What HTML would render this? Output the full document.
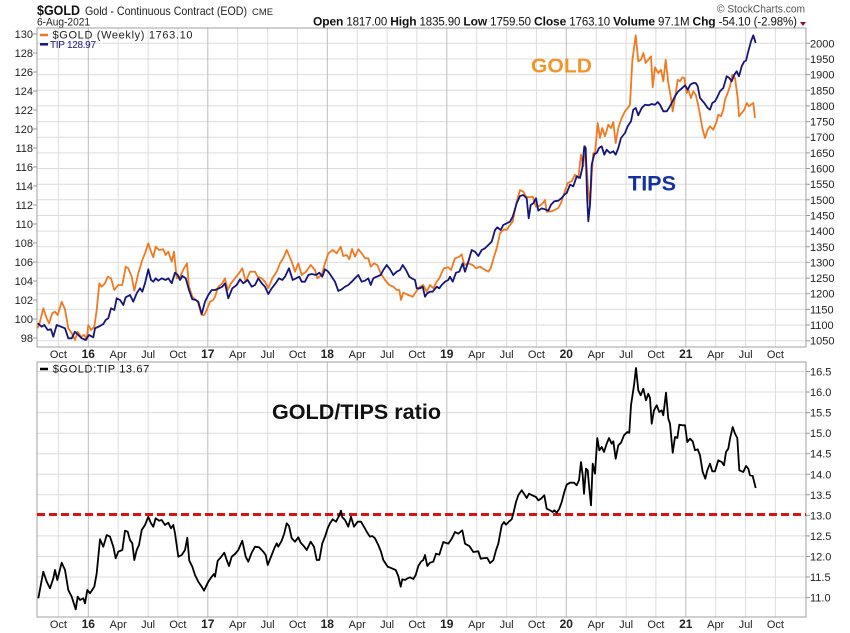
<!DOCTYPE html>
<html><head><meta charset="utf-8"><style>
html,body{margin:0;padding:0;background:#fff;}
svg{display:block;font-family:"Liberation Sans",Arial,sans-serif;}
</style></head><body>
<svg width="850" height="633" viewBox="0 0 850 633" xmlns="http://www.w3.org/2000/svg">
<rect width="850" height="633" fill="#fff"/>
<!-- header -->
<text x="37" y="15" font-size="14" font-weight="bold" fill="#111" textLength="43" lengthAdjust="spacingAndGlyphs">$GOLD</text>
<text x="85" y="15" font-size="12" fill="#222" textLength="162" lengthAdjust="spacingAndGlyphs">Gold - Continuous Contract (EOD)</text>
<text x="252" y="15" font-size="9" fill="#222" textLength="21" lengthAdjust="spacingAndGlyphs">CME</text>
<text x="37" y="25.5" font-size="11" fill="#222" textLength="53" lengthAdjust="spacingAndGlyphs">6-Aug-2021</text>
<text x="717" y="12.5" font-size="11" fill="#555" textLength="88" lengthAdjust="spacingAndGlyphs">© StockCharts.com</text>
<text x="313" y="25.5" font-size="11.5" fill="#111" textLength="484" lengthAdjust="spacing"><tspan font-weight="bold" font-size="12">Open</tspan> 1817.00 <tspan font-weight="bold" font-size="12">High</tspan> 1835.90 <tspan font-weight="bold" font-size="12">Low</tspan> 1759.50 <tspan font-weight="bold" font-size="12">Close</tspan> 1763.10 <tspan font-weight="bold" font-size="12">Volume</tspan> 97.1M <tspan font-weight="bold" font-size="12">Chg</tspan> -54.10 (-2.98%)</text>
<polygon points="800,22 806,22 803,26" fill="#8b1030"/>

<!-- TOP PANEL grid -->
<g stroke="#dcdcdc" stroke-width="1">
<line x1="37" x2="806" y1="43.3" y2="43.3"/><line x1="37" x2="806" y1="59" y2="59"/><line x1="37" x2="806" y1="74.6" y2="74.6"/><line x1="37" x2="806" y1="90.3" y2="90.3"/><line x1="37" x2="806" y1="105.9" y2="105.9"/><line x1="37" x2="806" y1="121.6" y2="121.6"/><line x1="37" x2="806" y1="137.2" y2="137.2"/><line x1="37" x2="806" y1="152.9" y2="152.9"/><line x1="37" x2="806" y1="168.5" y2="168.5"/><line x1="37" x2="806" y1="184.2" y2="184.2"/><line x1="37" x2="806" y1="199.8" y2="199.8"/><line x1="37" x2="806" y1="215.5" y2="215.5"/><line x1="37" x2="806" y1="231.1" y2="231.1"/><line x1="37" x2="806" y1="246.8" y2="246.8"/><line x1="37" x2="806" y1="262.4" y2="262.4"/><line x1="37" x2="806" y1="278.1" y2="278.1"/><line x1="37" x2="806" y1="293.7" y2="293.7"/><line x1="37" x2="806" y1="309.4" y2="309.4"/><line x1="37" x2="806" y1="325" y2="325"/><line x1="37" x2="806" y1="340.7" y2="340.7"/>
</g>
<!-- BOTTOM PANEL horizontal grid -->
<g stroke="#dcdcdc" stroke-width="1">
<line x1="37" x2="806" y1="371.5" y2="371.5"/><line x1="37" x2="806" y1="392" y2="392"/><line x1="37" x2="806" y1="412.6" y2="412.6"/><line x1="37" x2="806" y1="433.2" y2="433.2"/><line x1="37" x2="806" y1="453.7" y2="453.7"/><line x1="37" x2="806" y1="474.3" y2="474.3"/><line x1="37" x2="806" y1="494.8" y2="494.8"/><line x1="37" x2="806" y1="535.9" y2="535.9"/><line x1="37" x2="806" y1="556.5" y2="556.5"/><line x1="37" x2="806" y1="577" y2="577"/><line x1="37" x2="806" y1="597.6" y2="597.6"/>
</g>
<!-- vertical grid both panels -->
<g stroke="#dcdcdc" stroke-width="1">
<path d="M58.4 28V347M58.4 362V617
M118.2 28V347M118.2 362V617 M148.1 28V347M148.1 362V617 M177.9 28V347M177.9 362V617
M237.7 28V347M237.7 362V617 M267.6 28V347M267.6 362V617 M297.4 28V347M297.4 362V617
M357.2 28V347M357.2 362V617 M387.1 28V347M387.1 362V617 M416.9 28V347M416.9 362V617
M476.7 28V347M476.7 362V617 M506.6 28V347M506.6 362V617 M536.4 28V347M536.4 362V617
M596.2 28V347M596.2 362V617 M626.1 28V347M626.1 362V617 M655.9 28V347M655.9 362V617
M715.7 28V347M715.7 362V617 M745.6 28V347M745.6 362V617 M775.4 28V347M775.4 362V617"/>
</g>
<g stroke="#bdbdbd" stroke-width="1">
<path d="M88.3 28V347M88.3 362V617 M207.8 28V347M207.8 362V617 M327.3 28V347M327.3 362V617 M446.8 28V347M446.8 362V617 M566.3 28V347M566.3 362V617 M685.8 28V347M685.8 362V617"/>
</g>
<!-- borders -->
<rect x="37" y="28" width="769" height="319" fill="none" stroke="#a0a0a0" stroke-width="1"/>
<rect x="37" y="362" width="769" height="255" fill="none" stroke="#a0a0a0" stroke-width="1"/>

<!-- left axis top -->
<g font-size="11" fill="#222" text-anchor="end">
<text x="33" y="38">130</text><text x="33" y="57">128</text><text x="33" y="76">126</text><text x="33" y="95">124</text><text x="33" y="114">122</text><text x="33" y="133">120</text><text x="33" y="152">118</text><text x="33" y="171">116</text><text x="33" y="190">114</text><text x="33" y="209">112</text><text x="33" y="228">110</text><text x="33" y="247">108</text><text x="33" y="266">106</text><text x="33" y="285">104</text><text x="33" y="304">102</text><text x="33" y="323">100</text><text x="33" y="342">98</text>
</g>
<g stroke="#999" stroke-width="1">
<path d="M33 34H37M33 53H37M33 72H37M33 91H37M33 110H37M33 129H37M33 148H37M33 167H37M33 186H37M33 205H37M33 224H37M33 243H37M33 262H37M33 281H37M33 300H37M33 319H37M33 338H37"/>
<path d="M806 43.3H810M806 59H810M806 74.6H810M806 90.3H810M806 105.9H810M806 121.6H810M806 137.2H810M806 152.9H810M806 168.5H810M806 184.2H810M806 199.8H810M806 215.5H810M806 231.1H810M806 246.8H810M806 262.4H810M806 278.1H810M806 293.7H810M806 309.4H810M806 325H810M806 340.7H810"/>
<path d="M806 371.5H810M806 392H810M806 412.6H810M806 433.2H810M806 453.7H810M806 474.3H810M806 494.8H810M806 515.4H810M806 535.9H810M806 556.5H810M806 577H810M806 597.6H810"/>
</g>
<!-- right axis top -->
<g font-size="11" fill="#222">
<text x="810" y="47.3">2000</text><text x="810" y="63">1950</text><text x="810" y="78.6">1900</text><text x="810" y="94.3">1850</text><text x="810" y="109.9">1800</text><text x="810" y="125.6">1750</text><text x="810" y="141.2">1700</text><text x="810" y="156.9">1650</text><text x="810" y="172.5">1600</text><text x="810" y="188.2">1550</text><text x="810" y="203.8">1500</text><text x="810" y="219.5">1450</text><text x="810" y="235.1">1400</text><text x="810" y="250.8">1350</text><text x="810" y="266.4">1300</text><text x="810" y="282.1">1250</text><text x="810" y="297.7">1200</text><text x="810" y="313.4">1150</text><text x="810" y="329">1100</text><text x="810" y="344.7">1050</text>
</g>
<!-- right axis bottom -->
<g font-size="11" fill="#222">
<text x="810" y="375.5">16.5</text><text x="810" y="396">16.0</text><text x="810" y="416.6">15.5</text><text x="810" y="437.2">15.0</text><text x="810" y="457.7">14.5</text><text x="810" y="478.3">14.0</text><text x="810" y="498.8">13.5</text><text x="810" y="519.4">13.0</text><text x="810" y="539.9">12.5</text><text x="810" y="560.5">12.0</text><text x="810" y="581">11.5</text><text x="810" y="601.6">11.0</text>
</g>
<!-- x labels top -->
<g font-size="11" fill="#222" text-anchor="middle">
<text x="58.4" y="358">Oct</text><text x="88.3" y="358" font-weight="bold" font-size="12">16</text><text x="118.2" y="358">Apr</text><text x="148.1" y="358">Jul</text><text x="177.9" y="358">Oct</text>
<text x="207.8" y="358" font-weight="bold" font-size="12">17</text><text x="237.7" y="358">Apr</text><text x="267.6" y="358">Jul</text><text x="297.4" y="358">Oct</text>
<text x="327.3" y="358" font-weight="bold" font-size="12">18</text><text x="357.2" y="358">Apr</text><text x="387.1" y="358">Jul</text><text x="416.9" y="358">Oct</text>
<text x="446.8" y="358" font-weight="bold" font-size="12">19</text><text x="476.7" y="358">Apr</text><text x="506.6" y="358">Jul</text><text x="536.4" y="358">Oct</text>
<text x="566.3" y="358" font-weight="bold" font-size="12">20</text><text x="596.2" y="358">Apr</text><text x="626.1" y="358">Jul</text><text x="655.9" y="358">Oct</text>
<text x="685.8" y="358" font-weight="bold" font-size="12">21</text><text x="715.7" y="358">Apr</text><text x="745.6" y="358">Jul</text><text x="775.4" y="358">Oct</text>
</g>
<g font-size="11" fill="#222" text-anchor="middle">
<text x="58.4" y="628">Oct</text><text x="88.3" y="628" font-weight="bold" font-size="12">16</text><text x="118.2" y="628">Apr</text><text x="148.1" y="628">Jul</text><text x="177.9" y="628">Oct</text>
<text x="207.8" y="628" font-weight="bold" font-size="12">17</text><text x="237.7" y="628">Apr</text><text x="267.6" y="628">Jul</text><text x="297.4" y="628">Oct</text>
<text x="327.3" y="628" font-weight="bold" font-size="12">18</text><text x="357.2" y="628">Apr</text><text x="387.1" y="628">Jul</text><text x="416.9" y="628">Oct</text>
<text x="446.8" y="628" font-weight="bold" font-size="12">19</text><text x="476.7" y="628">Apr</text><text x="506.6" y="628">Jul</text><text x="536.4" y="628">Oct</text>
<text x="566.3" y="628" font-weight="bold" font-size="12">20</text><text x="596.2" y="628">Apr</text><text x="626.1" y="628">Jul</text><text x="655.9" y="628">Oct</text>
<text x="685.8" y="628" font-weight="bold" font-size="12">21</text><text x="715.7" y="628">Apr</text><text x="745.6" y="628">Jul</text><text x="775.4" y="628">Oct</text>
</g>

<!-- Gold series -->
<polyline fill="none" stroke="#EE7A22" stroke-width="1.8" stroke-linejoin="round" points="37.7,328.3 40,321.7 43.3,308.3 46.7,318.3 49,323.3 52.3,313.3 55,311.7 57.7,315 61.7,301.7 65,309.3 68.3,328.3 71.7,333.3 75,340 77.7,331.7 81,336.7 84.3,335 86.7,339.3 88.3,325 91,330 94.3,326.7 96.7,310 99.3,283.3 101.7,286.7 105,283.3 107.7,276.7 111,278.3 114.3,290 118.3,285 122.3,285 125.7,266.7 128.3,268.3 131.7,276.7 134.3,290.7 138.3,273.3 142.3,260 145,253.3 148.3,243.3 151,251.7 153.3,257.3 155.7,246.7 159,250 163.3,249.3 165.7,255 168.3,251.7 171.7,261.7 174,251.7 176.7,278.3 180,276.7 184,268.3 187,263.3 189,286.7 192.3,296.7 197.7,301.7 201.7,315 204.3,315 206.7,310 210,301.7 213.3,300 215,296.7 218.3,286.7 222.3,283.3 225,278.3 227.7,290 231,283.3 235,278.3 239,273.3 242.3,268.3 245.7,281.7 250,271.7 255,271.7 257.7,276.7 261.7,278.3 265,281.7 268.3,288.3 272.3,278.3 276.7,271.7 280,263.3 283.3,258.3 286.7,250 291.7,261.7 295,271.7 298.3,263.3 301.7,275 306,271.7 310.7,265 315,270 317.3,278.3 321.7,275 325,263.3 328.3,253.3 332.7,250 336.7,253.3 340.7,246.7 343.3,256 346.7,255 349.3,259.3 352,249 355,256.7 358.3,249.3 361.7,253.3 365,258.3 368.3,258.3 370.7,266.7 374,263.3 377.3,265 380.7,273.3 385,280 389.3,285 393.3,286.7 396.7,290 399.3,290 401,300 403.3,292.7 408.3,295 412.7,296.7 416,291.7 420,286.7 423.3,285 426.7,291.7 430,285 433.3,288.3 436.7,281.7 439.3,278.3 441.7,272.7 444,268.3 448.3,267.3 451,270 455,258.3 459.3,256.7 461.7,254.3 464.3,265 468.3,263.3 472.7,265 476,268.3 480,266.7 484,269.3 488.3,271.7 490.7,268.3 494,256.7 496.7,248.3 500,233.3 504,229.3 506.7,230 510,225 512.7,221.7 515,210 516.7,201.7 520,190 523.3,191.7 526,196.7 529.3,197.3 532.7,196.7 536,206.7 539.3,206 542.7,203.3 545,200 546.7,211.7 551.7,211.3 555,209.7 558.3,208 561,203 564.3,193 567.7,183 571.7,181.3 575,174.7 578.3,178 581,154.7 583.3,166.3 585,146.3 586.7,168 588.3,191.3 590,204.7 591.7,174.7 593.3,153 595,154 597.7,123 600,138 602.3,128 605,136.3 608.3,124.7 611,128 613.3,122 615.7,143 618.3,128 621.7,118 625,111.3 628.3,107.3 630,104.7 632.3,61.3 635.7,35.3 638.3,61.3 641,59.7 643.3,53 645.7,63 648.3,59.7 651,56.3 652.7,87.3 655,67.3 658.3,73 661,69.7 663.3,81.3 665.7,59.7 668.3,83 671,98 672.7,111.3 675,98 677.7,79.7 680,81.3 682.3,77.3 684.3,78 686.7,93 688.3,89.7 691,98 693.3,91.3 695.7,94.7 697.7,103 700,114.7 702.3,128 705,138 707.7,129.7 710,126.3 713.3,129.7 716.7,121.3 718.3,114.7 721,116.3 723.3,109.7 725,99.7 727.7,93 730,86.3 732.3,74.7 735,78 737.7,98 739,116.3 741.7,113 744.3,109.7 746.7,103 749,106.3 751.7,104 753.3,103 755,118"/>
<!-- TIP series -->
<polyline fill="none" stroke="#15157A" stroke-width="1.8" stroke-linejoin="round" points="37.7,323.3 41.7,326.7 44.3,325 47.7,330 51,329.3 53.3,336.7 56.7,325 61,326.7 65,328.3 68.3,338.3 71.7,338.3 75,331.7 78.3,335 81.7,338.3 85.7,340 89,335 93.3,337.3 95,328.3 100,326 103.3,324 105.7,320 108.3,318.3 111,308.3 114.3,310 116.7,298.3 120,300 123.3,305 125.7,297.3 130,295 133.3,301.7 136.7,293.3 140,288.3 142.3,291.7 145,283.3 148.3,269.3 151,280 153.3,281.7 155.7,278.3 158.3,280.7 161.7,278.3 165.7,280 168.3,278.3 171.7,283.3 175,272.7 177.7,275 180,280 182.3,276 185.7,278.3 189,290 192.3,299.3 195.7,300 198.3,301.7 201.7,314 205,301.7 208.3,295 211.7,290 215,290 219,288.3 222.3,286.7 225,283.3 228.3,298.3 232.3,288.3 236.7,285 240,279.3 243.3,283.3 247.7,280 251.7,286.7 255,285 258.3,278.3 261.7,283.3 265,286.7 268.3,294 271.7,288.3 275.7,283.3 279,278.3 282.3,280 285,276.7 289,268.3 292.7,280 296,278.3 299.3,276.7 301.7,281.7 305,281.7 308.3,275 311.7,274 316,275 319.3,272.7 322.3,276.7 325,269.3 328.3,271.7 331.7,276.7 335,281.7 338.3,291 341.7,289.3 345,286.7 348.3,285 351.7,281.7 355,278.3 358.3,275 361.7,281.7 365,280.7 368.3,278.3 370.7,285 373.3,278.3 376.7,276.7 380.7,275 383.3,270 386.7,265 390,269.3 393.3,275 396.7,271.7 400,270 402.7,265 406,270 409.3,276.7 411.7,278.3 415,280 416.7,288.3 420,288.3 422.7,286.7 425,296.7 427.3,293.3 430,291.7 432.7,291.7 436.7,286.7 439.3,288.3 441.7,285 445,281.7 448.3,280 450,276.7 452.7,281.7 456,272.7 459.3,271.7 462.7,263.3 465,271.7 468.3,261.7 471.7,250 475,251.7 478.3,256 481.7,250 485,248.3 488.3,245 491.7,241.7 495,230 497.3,227.3 500.7,230 503.3,225 506.7,223.3 510,221.7 512.7,216.7 516.7,203.3 520,196 523.3,195 526.7,198.3 528.7,218.3 530.7,205 533.3,203.3 536,198.3 538.3,210.7 541.7,208.3 545,209.3 548.3,210.7 551,204.7 554.3,201.3 558.3,200.7 561.7,198 564.3,194.7 566.7,193 570,184.7 573.3,186.3 576.7,176.3 580,178 582.3,168 584.3,146.3 585.7,148 587,194.7 588.3,221.3 590,204.7 591.7,164.7 594.3,154 596.7,153 599,148 601.7,146.3 604.3,154.7 606.7,149.7 610,153 613.3,151.3 615.7,154.7 618.3,148 621,138 625,133 627.7,126.3 631,121.3 633.3,109.7 635.7,108 638.3,115.3 641.7,108 645,104.7 648.3,105.3 651.7,104 655,104.7 657.7,102 660,104.7 663.3,111.3 666.7,111.3 669,108 671.7,103 675,96.3 678.3,91.3 682.3,88 685,85.3 687.7,89.7 690.3,84.7 693.3,83 695.7,83 697.7,86.3 700,98 704.3,103 707.7,108 710,109.7 712.3,103 715,101.3 717.7,96.3 720,91.3 723.3,88 726.7,76.3 729.3,78 731.7,81.3 734.3,74.7 736.7,71.3 739,76.3 741.7,66.3 744.3,61.3 746,60.7 748.3,51.3 751,41.3 753.3,35.3 755.7,43"/>

<!-- top legend -->
<rect x="38" y="30" width="160" height="20" fill="#fff" opacity="0"/>
<line x1="40" x2="48" y1="35" y2="35" stroke="#EE7A22" stroke-width="2.5"/>
<text x="52.5" y="38.5" font-size="11" fill="#222" textLength="140" lengthAdjust="spacing">$GOLD (Weekly) 1763.10</text>
<line x1="40" x2="48" y1="44.3" y2="44.3" stroke="#15157A" stroke-width="2.5"/>
<text x="50" y="48" font-size="10" fill="#15157A" textLength="46" lengthAdjust="spacing">TIP 128.97</text>

<!-- annotations -->
<text x="531" y="72.7" font-size="20" font-weight="bold" fill="#F0962A" textLength="61" lengthAdjust="spacingAndGlyphs">GOLD</text>
<text x="628" y="190.5" font-size="21" font-weight="bold" fill="#1530A0" textLength="48" lengthAdjust="spacingAndGlyphs">TIPS</text>

<!-- bottom panel -->
<line x1="37" x2="806" y1="514.5" y2="514.5" stroke="#DD1111" stroke-width="3" stroke-dasharray="8,4"/>
<polyline fill="none" stroke="#000" stroke-width="1.8" stroke-linejoin="round" points="38.3,598.3 43.3,571.7 46.7,581.7 50,588.3 53.3,578.3 55,570 57.3,580 61.7,562.7 65,570 68.3,590 71.7,596.7 75.7,609.3 77.7,596.7 80,600 83.3,598.3 85,603.3 87.3,590 90,593.3 94.3,586.7 96.7,573.3 100,539.3 103.3,546.7 106.7,535 110,536.7 113.3,546.7 115.7,558.3 118.3,551.7 122.3,550 125,530.7 127.7,531.7 130,540 132.3,543.3 134.3,560 136.7,550 139,545 141.7,530 145,525 148.3,516.7 150.7,522.7 153.3,526.7 155.7,518.3 159,520.7 161.7,520 165,525 168.3,522.7 171,528.3 173.3,525 175,533.3 178.3,556.7 181.7,555 185,550 187.3,537.7 189.3,560.7 192.3,566.7 195,575 198.3,581.7 201.7,586.7 204,590.7 208.3,581.7 211.7,576.7 214,574 215,576.7 217.7,560.7 220,558.3 224.3,552.7 226.7,560 229,566 231.7,556.7 235,554 238.3,550 242.3,540.7 245.7,556.7 248.3,561.7 251.7,552.7 255,546.7 259,547.3 263.3,551.7 265.7,555 267.7,565 271.7,555 274.3,548.3 276.7,543.3 278.3,546.7 281.7,540.7 284.3,533.3 286.7,523.3 289,526 291.7,538.3 295,541.7 298.3,537.3 300.7,542.7 304.3,546.7 306.7,550 310.7,541.7 314,546.7 316.7,560 319.3,560 322.3,543.3 325,536.7 327.7,528.3 330,523.3 332.7,519.3 336,521.7 339,516 341,510.7 342.3,517.3 345,520 348.3,526.7 351,516.7 354,526.7 357.7,521.7 361,521.7 364.3,527.3 366.7,531.7 370,536.7 372.3,536 375,538.3 378.3,545 381,551.7 383.3,560 387.7,566.7 391.7,568.3 395.7,570 398.3,576 400.7,586.7 402.3,579.3 405,580 407.7,578.3 410,577.3 413.3,579 415.7,575 418.3,566 421,561.7 423.3,560 425,555 427.3,566 430,562.7 433.3,561.7 436,553.7 439.3,554.7 443.3,542 448.3,543.7 451.7,538.7 455,532 458.3,533.7 462.3,530.3 465,543.7 469.3,546 473.3,552 478.3,551.3 480.7,558.7 485,558 487.3,558 490,563 493.3,560.3 496,550.3 498.3,543.7 501.7,525.3 504,522 506,524.7 509.3,521.3 511.7,519.3 513.3,513.7 516,502 518.3,495.3 521.7,490.3 524,493.7 526.7,498 529,493.7 532.3,495.3 536,497 538.3,500.3 541,498.7 544.3,495.3 546.7,508.7 550,510.3 552.7,512 554.3,510.3 556.7,512.7 559.3,508.7 561.7,502 564.3,492 566.7,484.7 570,482.7 574,482.7 576.7,485.3 579,480.3 581,462 582.7,475.3 584,493.7 586,468.7 587.7,470.3 589.3,488.7 591,505.3 592.7,463.7 595,473.7 597.3,438 599.3,450.3 601.7,447 604,452 606.7,443.7 609,438 611.7,443.7 613.3,441.3 615.7,458.7 618.3,445.3 621,442.7 624,435.3 627.3,432 629.3,432.7 631,405.3 634,385.3 636,368 638.3,390.3 640.7,395.3 643.3,388.7 646,400.3 648.3,393.7 650,398 651.7,423.7 654,410.3 656.7,405.3 659.3,412 661.7,410.3 663.3,415.3 666,392.7 668.3,418.7 670,423.7 672.7,452.7 675,437 677.3,438 679.3,424.7 682.3,425.3 685,425.3 687.3,442 690,438.7 692.7,441.3 695,450.3 697.7,449.3 700,455.3 702.7,472 705.3,478.7 707.3,470.3 710,463.7 712.3,471.3 715,471.3 718.3,460.3 721.7,462 724,465.3 726,452 728.3,448.7 730,438.7 732.7,427 735,433.7 737.3,438 739.3,470.3 741.7,471.3 743.3,472 746,466 748.3,468.7 750,475.3 752.7,476 755.7,488"/>
<line x1="40" x2="48" y1="369" y2="369" stroke="#000" stroke-width="2.5"/>
<text x="52.7" y="372.7" font-size="11" fill="#111" textLength="96.5" lengthAdjust="spacing">$GOLD:TIP 13.67</text>
<text x="272" y="419" font-size="21" font-weight="bold" fill="#111" textLength="169" lengthAdjust="spacingAndGlyphs">GOLD/TIPS ratio</text>
</svg>
</body></html>
